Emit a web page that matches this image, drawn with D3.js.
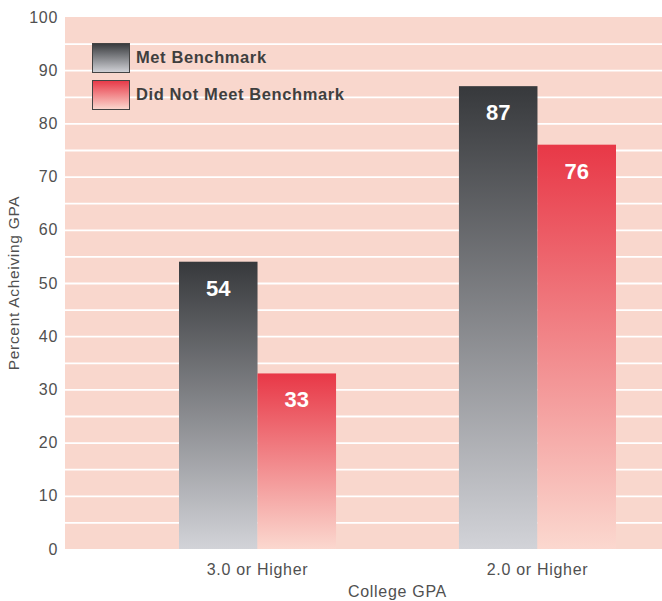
<!DOCTYPE html>
<html>
<head>
<meta charset="utf-8">
<script src="https://cdn.jsdelivr.net/npm/d3@7"></script>
<style>
  body { margin: 0; background: #fff; }
  svg { display: block; font-family: "Liberation Sans", Arial, sans-serif; }
</style>
</head>
<body>
<svg id="chart" width="662" height="601"></svg>
<script>
const categories = ['3.0 or Higher', '2.0 or Higher'];
const seriesNames = ['Met Benchmark', 'Did Not Meet Benchmark'];
const metValues = [54, 87];
const notMetValues = [33, 76];
const yTicks = [0, 10, 20, 30, 40, 50, 60, 70, 80, 90, 100];

const svg = d3.select('#chart');

const plot = {left: 65, right: 662, top: 17, bottom: 549};
const barLeft = 179, barRight = 616;
const labelColor = '#505050';

const data = categories.map((c, i) => ({
    cat: c,
    values: [
        {key: seriesNames[0], value: metValues[i]},
        {key: seriesNames[1], value: notMetValues[i]}
    ]
}));

// scales
const yScale = d3.scaleLinear()
    .domain([0, 100])
    .range([plot.bottom, plot.top]);

const x0 = d3.scaleBand()
    .domain(categories)
    .range([barLeft, barRight])
    .paddingInner(0.439)
    .paddingOuter(0);

const x1 = d3.scaleBand()
    .domain(seriesNames)
    .range([0, x0.bandwidth()]);

// gradients, one per series, stretched over each bar
const defs = svg.append('defs');
const grads = [
    {id: 'gradMet', top: '#37393c', bottom: '#d2d3d8'},
    {id: 'gradNot', top: '#e83847', bottom: '#fbd8cf'}
];
grads.forEach(g => {
    const lg = defs.append('linearGradient')
        .attr('id', g.id)
        .attr('x1', 0).attr('y1', 0)
        .attr('x2', 0).attr('y2', 1);
    lg.append('stop').attr('offset', '0%').attr('stop-color', g.top);
    lg.append('stop').attr('offset', '100%').attr('stop-color', g.bottom);
});
const fillFor = key => key === seriesNames[0] ? 'url(#gradMet)' : 'url(#gradNot)';

// plot background
svg.append('rect')
    .attr('x', plot.left)
    .attr('y', plot.top)
    .attr('width', plot.right - plot.left)
    .attr('height', plot.bottom - plot.top)
    .attr('fill', '#f9d7cd');

// grid lines every 5
const gridG = svg.append('g')
    .attr('transform', `translate(${plot.left},0)`)
    .call(d3.axisLeft(yScale)
        .tickValues(d3.range(5, 100, 5))
        .tickSize(-(plot.right - plot.left))
        .tickFormat(''));
gridG.select('.domain').remove();
gridG.selectAll('line')
    .attr('stroke', '#ffffff')
    .attr('stroke-width', 1.8);

// y axis
const yAxisG = svg.append('g')
    .attr('transform', `translate(${plot.left},0)`)
    .call(d3.axisLeft(yScale)
        .tickValues(yTicks)
        .tickSize(0)
        .tickPadding(7));
yAxisG.select('.domain').remove();
yAxisG.selectAll('text')
    .attr('fill', labelColor)
    .style('font-size', '16px')
    .style('letter-spacing', '0.7px');

svg.append('text')
    .attr('transform', `translate(19, ${(plot.top + plot.bottom) / 2}) rotate(-90)`)
    .attr('text-anchor', 'middle')
    .attr('fill', labelColor)
    .style('font-size', '15.5px')
    .style('letter-spacing', '0.7px')
    .text('Percent Acheiving GPA');

// x axis
const xAxisG = svg.append('g')
    .attr('transform', `translate(0, ${plot.bottom})`)
    .call(d3.axisBottom(x0).tickSize(0).tickPadding(15));
xAxisG.select('.domain').remove();
xAxisG.selectAll('text')
    .attr('fill', labelColor)
    .style('font-size', '16px')
    .style('letter-spacing', '0.7px');

svg.append('text')
    .attr('x', (barLeft + barRight) / 2)
    .attr('y', 597)
    .attr('text-anchor', 'middle')
    .attr('fill', labelColor)
    .style('font-size', '16px')
    .style('letter-spacing', '0.7px')
    .text('College GPA');

// bars
const groups = svg.selectAll('.group')
    .data(data)
    .enter().append('g')
    .attr('class', 'group')
    .attr('transform', d => `translate(${x0(d.cat)},0)`);

groups.selectAll('rect')
    .data(d => d.values)
    .enter().append('rect')
    .attr('x', d => x1(d.key))
    .attr('y', d => yScale(d.value))
    .attr('width', x1.bandwidth())
    .attr('height', d => yScale(0) - yScale(d.value))
    .attr('fill', d => fillFor(d.key));

groups.selectAll('.val')
    .data(d => d.values)
    .enter().append('text')
    .attr('class', 'val')
    .attr('x', d => x1(d.key) + x1.bandwidth() / 2)
    .attr('y', d => yScale(d.value) + 34)
    .attr('text-anchor', 'middle')
    .attr('fill', '#ffffff')
    .style('font-size', '22px')
    .style('font-weight', 'bold')
    .text(d => d.value);

// legend
const legend = svg.append('g')
    .attr('transform', 'translate(92, 43)');
seriesNames.forEach((name, i) => {
    const row = legend.append('g').attr('transform', `translate(0, ${i * 37})`);
    row.append('rect')
        .attr('x', 0.5).attr('y', 0.5)
        .attr('width', 37).attr('height', 29)
        .attr('fill', fillFor(name))
        .attr('stroke', '#444')
        .attr('stroke-width', 1);
    row.append('text')
        .attr('x', 44)
        .attr('y', 20)
        .attr('fill', '#3f3f3f')
        .style('font-size', '16.5px')
        .style('font-weight', 'bold')
        .style('letter-spacing', '0.6px')
        .text(name);
});
</script>
</body>
</html>
